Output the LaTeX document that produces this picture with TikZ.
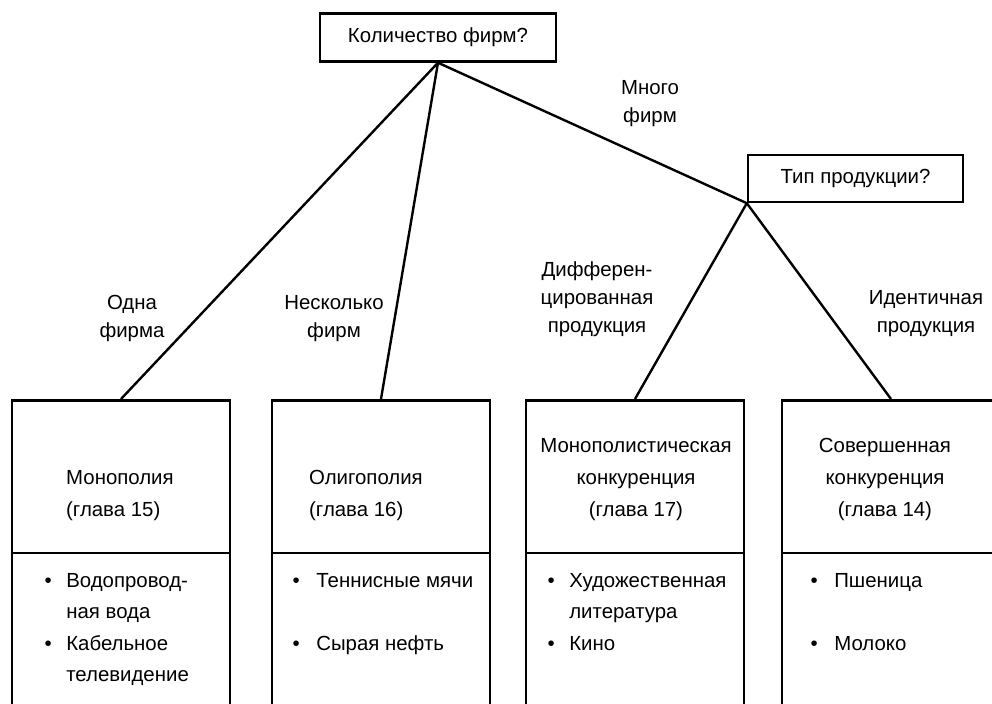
\documentclass[tikz,border=0pt]{standalone}
\usepackage{fontspec}
\setmainfont{Liberation Sans}
\begin{document}
\begin{tikzpicture}[x=0.5pt, y=-0.5pt, line width=1.2pt,
    font=\fontsize{10.2}{14}\selectfont,
    vopros/.style={draw, line width=1.2pt, minimum width=118pt, minimum height=24pt, inner sep=0pt},
    rynok/.style={draw, line width=1.4pt, minimum width=109pt, minimum height=160pt, anchor=north, inner sep=0pt},
    metka/.style={align=center, anchor=base, inner sep=0pt},
    spisok/.style={anchor=base west, inner sep=0pt}]
    \useasboundingbox (0,0) rectangle (992,703);
    \clip (0,0) rectangle (992,703);
    \renewcommand{\arraystretch}{1.125}

    % вопросы
    \node[vopros] (kol) at (438,37.5) {Количество фирм?};
    \node[vopros, minimum width=107.5pt, minimum height=23.5pt] (tip) at (855.5,178.5) {Тип продукции?};

    % рынки
    \node[rynok] (mono) at (121,399) {};
    \node[rynok] (oligo) at (381,399) {};
    \node[rynok] (monok) at (635,399) {};
    \node[rynok] (sovk) at (891,399) {};
    \foreach \r in {mono, oligo, monok, sovk}
        \draw[line width=1.4pt] (\r.west |- 0,553) -- (\r.east |- 0,553);

    % ветви
    \draw (kol.south) -- (mono.north);
    \draw (kol.south) -- (oligo.north);
    \draw (kol.south) -- (tip.south west);
    \draw (tip.south west) -- (monok.north);
    \draw (tip.south west) -- (sovk.north);

    % подписи ветвей (base = последняя строка)
    \node[metka] (mnogo) at (650,122) {Много\\фирм};
    \node[metka] (odna) at (132,337) {Одна\\фирма};
    \node[metka] (neskolko) at (334,337) {Несколько\\фирм};
    \node[metka] (diff) at (597,332) {Дифферен-\\цированная\\продукция};
    \node[metka] (ident) at (926,332) {Идентичная\\продукция};

    % названия рынков
    \node[spisok, align=left] (mono-t) at (65,516) {Монополия\\[2pt](глава 15)};
    \node[spisok, align=left] (oligo-t) at (308,516) {Олигополия\\[2pt](глава 16)};
    \node[metka] (monok-t) at (636,516) {Монополистическая\\[1.8pt]конкуренция\\[1.8pt](глава 17)};
    \node[metka] (sovk-t) at (885,516) {Совершенная\\[1.8pt]конкуренция\\[1.8pt](глава 14)};

    % примеры
    \node[spisok] (mono-p) at (43.5,587) {\begin{tabular}[t]{@{}c@{\hspace{7.25pt}}l@{}}
        • & Водопровод-\\ & ная вода\\ • & Кабельное\\ & телевидение\end{tabular}};
    \node[spisok] (oligo-p) at (291.5,587) {\begin{tabular}[t]{@{}c@{\hspace{8.25pt}}l@{}}
        • & Теннисные мячи\\ & \\ • & Сырая нефть\end{tabular}};
    \node[spisok] (monok-p) at (546.5,587) {\begin{tabular}[t]{@{}c@{\hspace{7.25pt}}l@{}}
        • & Художественная\\ & литература\\ • & Кино\end{tabular}};
    \node[spisok] (sovk-p) at (809.5,587) {\begin{tabular}[t]{@{}c@{\hspace{8.25pt}}l@{}}
        • & Пшеница\\ & \\ • & Молоко\end{tabular}};
\end{tikzpicture}
\end{document}
